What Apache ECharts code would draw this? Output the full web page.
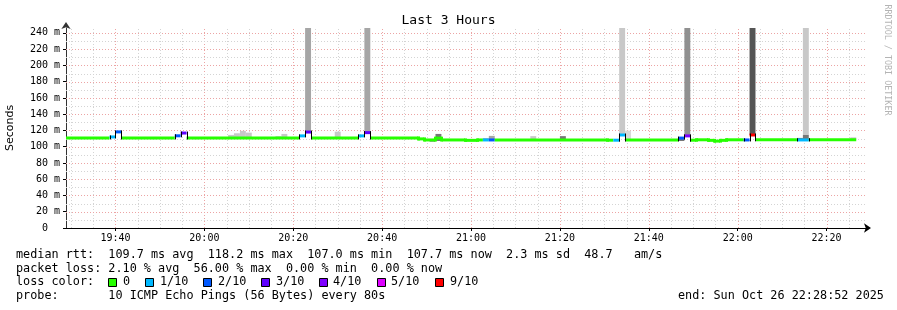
<!DOCTYPE html>
<html><head><meta charset="utf-8">
<script src="https://cdn.jsdelivr.net/npm/echarts@6/dist/echarts.min.js"></script>
<style>html,body{margin:0;padding:0;background:#fff}#c{width:897px;height:310px}</style>
</head><body><div id="c"></div>
<script>
// ================= DATA =================
const titleText = 'Last 3 Hours';
const yAxisName = 'Seconds';
const rangeStart = '19:28:52';
const rangeEnd = '22:28:52';
const xTickLabels = ['19:40','20:00','20:20','20:40','21:00','21:20','21:40','22:00','22:20'];
const yTickValues = [0,20,40,60,80,100,120,140,160,180,200,220,240];
const yMaxValue = 246;           // upper limit of the plot (ms)
const probeStepSeconds = 80;     // "every 80s"

// median RTT (ms), step segments: start time, value, loss count (of 10)
const medStart = ['19:28:00','19:38:40','19:40:00','19:41:20','19:53:20','19:54:40','19:56:00',
  '20:21:20','20:22:40','20:24:00','20:34:40','20:36:00','20:37:20','20:48:00','20:49:20',
  '20:52:00','20:53:20','20:58:40','21:01:20','21:02:40','21:04:00','21:05:20','21:30:40',
  '21:32:00','21:33:20','21:34:40','21:46:40','21:48:00','21:49:20','21:50:40','21:53:20',
  '21:54:40','21:56:00','21:57:20','22:01:20','22:02:40','22:04:00','22:13:20','22:16:00'];
const medValue = [110.8,112.0,118.2,110.8,113.4,116.8,110.8,
  113.3,118.0,110.8,113.3,117.3,110.8,109.6,108.3,
  110.5,108.3,107.8,108.3,108.3,108.3,108.3,108.0,
  108.0,114.4,108.3,110.6,113.3,108.0,108.5,107.8,
  106.9,107.8,108.5,108.3,114.4,108.5,108.3,108.6];
const medLoss = [0,1,2,0,2,3,0,
  1,3,0,1,3,0,0,0,
  0,0,0,0,1,2,0,0,
  1,1,0,2,4,0,0,0,
  0,0,0,2,9,0,1,0];
const medEnd = '22:26:40';

// smoke (ping spread) blocks, one probe step each: start, low, high (ms), density (1 light .. 6 dark)
const smokeStart = ['19:48:00','19:57:20','20:05:20','20:06:40','20:08:00','20:09:20',
  '20:16:00','20:17:20','20:22:40','20:29:20','20:36:00','20:50:40','20:52:00',
  '21:02:40','21:04:00','21:13:20','21:20:00','21:33:20','21:34:40','21:46:40','21:48:00',
  '22:01:20','22:02:40','22:13:20','22:14:40','22:14:40','22:24:00','22:25:20'];
const smokeLow = [109.2,109.2,110.0,110.0,110.0,110.0,
  110.0,110.0,118.0,110.0,117.3,106.0,107.0,
  108.3,108.3,108.3,108.3,114.4,108.3,107.0,113.3,
  107.0,114.4,108.3,108.3,114.4,108.0,108.0];
const smokeHigh = [110.8,110.8,114.5,116.5,119.5,117.3,
  113.0,115.7,300,118.5,300,108.3,115.7,
  110.5,113.3,113.0,113.0,300,119.8,110.6,300,
  108.3,300,110.8,114.4,300,109.0,111.5];
const smokeDensity = [2,2,2,2,2,2,
  2,2,3,2,3,4,5,
  3,3,2,5,2,1,5,4,
  5,6,5,5,2,2,2];

// legend / stats text
const legendLines = [
  'median rtt:  109.7 ms avg  118.2 ms max  107.0 ms min  107.7 ms now  2.3 ms sd  48.7   am/s',
  'packet loss: 2.10 % avg  56.00 % max  0.00 % min  0.00 % now',
  'loss color:',
  'probe:       10 ICMP Echo Pings (56 Bytes) every 80s'
];
const lossLegendLabels = ['0','1/10','2/10','3/10','4/10','5/10','9/10'];
const lossLegendLevels = [0,1,2,3,4,5,9];
const endText = 'end: Sun Oct 26 22:28:52 2025';
const watermark = 'RRDTOOL / TOBI OETIKER';

// ================= STYLE =================
const lossColors = {0:'#26ff00',1:'#00b8ff',2:'#0059ff',3:'#5e00ff',4:'#7e00ff',5:'#dd00ff',9:'#ff0000'};
const smokeColors = ['#d9d9d9','#c8c8c8','#a6a6a6','#909090','#777777','#555555'];
const MONO = '"DejaVu Sans Mono", monospace';
const minorGrid = '#d4d4d4', majorGrid = '#eca4a4';

const toMin = s => { const p = s.split(':').map(Number); return p[0]*60 + p[1] + (p[2]||0)/60; };
const fmt = v => { const h = Math.floor(v/60), m = Math.round(v%60); return String(h).padStart(2,'0')+':'+String(m).padStart(2,'0'); };
const stepMin = probeStepSeconds/60;

const medData = medStart.map((s,i)=>[toMin(s), i+1<medStart.length ? toMin(medStart[i+1]) : toMin(medEnd), medValue[i], medLoss[i]]);
const smokeData = smokeStart.map((s,i)=>[toMin(s), toMin(s)+stepMin, smokeLow[i], smokeHigh[i], smokeDensity[i]]);

const xMin = toMin(rangeStart), xMax = toMin(rangeEnd);
const xTickVals = xTickLabels.map(toMin);

// grid lines (5 min / 10 ms minor, 20 min / 20 ms major): [orientation, value, major]
const gridData = [];
for (let v = Math.ceil(xMin/5)*5; v < xMax; v += 5) gridData.push([0, v, v%20===0 ? 1 : 0]);
for (let v = 10; v <= 240; v += 10) gridData.push([1, v, v%20===0 ? 1 : 0]);

const chart = echarts.init(document.getElementById('c'), null, {renderer:'canvas'});
const legendY = [255, 268.5, 282, 296];
const boxX = [108.5,145.5,203.5,261.5,319.5,377.5,435.5];
const lblX = [123,160,218,276,333,391,450];
const graphics = [];
legendLines.forEach((t,i)=>graphics.push({type:'text', x:16, y:legendY[i], style:{text:t, font:'11.8px '+MONO, fill:'#000', textVerticalAlign:'middle'}}));
lossLegendLevels.forEach((lv,i)=>{
  graphics.push({type:'rect', shape:{x:boxX[i], y:278.5, width:8, height:8}, style:{fill:lossColors[lv], stroke:'#000', lineWidth:1}});
  graphics.push({type:'text', x:lblX[i], y:legendY[2], style:{text:lossLegendLabels[i], font:'11.8px '+MONO, fill:'#000', textVerticalAlign:'middle'}});
});
graphics.push({type:'text', x:678, y:legendY[3], style:{text:endText, font:'11.8px '+MONO, fill:'#000', textVerticalAlign:'middle'}});
graphics.push({type:'text', x:887, y:60, rotation:-Math.PI/2, style:{text:watermark, font:'8.4px '+MONO, fill:'#b4b4b4', textAlign:'center', textVerticalAlign:'middle'}});

chart.setOption({
  animation:false,
  backgroundColor:'#ffffff',
  title:{text:titleText, left:'center', top:9, textStyle:{fontFamily:MONO, fontSize:13, fontWeight:'normal', color:'#000'}},
  grid:{left:66, right:31, top:28, bottom:82, containLabel:false, outerBoundsMode:'none'},
  xAxis:{type:'value', min:xMin, max:xMax,
    axisLine:{show:true, lineStyle:{color:'#000', width:1}, symbol:['none','arrow'], symbolSize:[7,7], symbolOffset:[0,5]},
    axisTick:{show:true, customValues:xTickVals, length:3, lineStyle:{color:'#000'}},
    axisLabel:{customValues:xTickVals, formatter:fmt, fontFamily:MONO, fontSize:10, color:'#000', margin:5},
    splitLine:{show:false}},
  yAxis:{type:'value', min:0, max:yMaxValue, name:yAxisName, nameLocation:'middle', nameGap:50, nameRotate:90,
    nameTextStyle:{fontFamily:'"DejaVu Sans", sans-serif', fontSize:11, color:'#000'},
    axisLine:{show:true, lineStyle:{color:'#333', width:1}, symbol:['none','arrow'], symbolSize:[7,7], symbolOffset:[0,6]},
    axisTick:{show:true, customValues:yTickValues, length:3, lineStyle:{color:'#000'}},
    axisLabel:{customValues:yTickValues, formatter:v=> v===0 ? '0  ' : v+' m', fontFamily:MONO, fontSize:10, color:'#000', margin:6},
    splitLine:{show:false}},
  graphic:graphics,
  series:[
    {type:'custom', z:1, silent:true, clip:true, data:gridData,
     renderItem:(params, api)=>{
       const o = api.value(0), v = api.value(1), major = api.value(2);
       let a, b;
       if (o === 0) { a = api.coord([v, 0]); b = api.coord([v, yMaxValue]); const x = Math.round(a[0])+0.5; a[0]=x; b[0]=x; }
       else { a = api.coord([xMin, v]); b = api.coord([xMax, v]); const y = Math.round(a[1])+0.5; a[1]=y; b[1]=y; }
       return {type:'line', shape:{x1:a[0], y1:a[1], x2:b[0], y2:b[1]},
         style:{stroke: major ? majorGrid : minorGrid, lineWidth:1, lineDash:[1,2]}};
     }},
    {type:'custom', z:2, clip:true, data:smokeData,
     renderItem:(params, api)=>{
       const p0 = api.coord([api.value(0), api.value(3)]);
       const p1 = api.coord([api.value(1), api.value(2)]);
       return {type:'rect', shape:{x:p0[0], y:p0[1], width:p1[0]-p0[0], height:p1[1]-p0[1]},
         style:{fill:smokeColors[api.value(4)-1]}};
     }},
    {type:'custom', z:3, clip:true, data:medData,
     renderItem:(params, api)=>{
       const i = params.dataIndex;
       const v = api.value(2), loss = api.value(3);
       const p0 = api.coord([api.value(0), v]);
       const p1 = api.coord([api.value(1), v]);
       const children = [{type:'line', shape:{x1:p0[0], y1:p0[1], x2:p1[0], y2:p1[1]}, style:{stroke:lossColors[loss], lineWidth:3}}];
       if (i > 0 && medData[i-1][2] !== v) {
         const pv = medData[i-1][2], pl = medData[i-1][3];
         const q = api.coord([api.value(0), pv]);
         const black = (loss > 0 || pl > 0);
         const lo = Math.max(q[1], p0[1]) + 1.5, hi = Math.min(q[1], p0[1]) - 1.5;
         children.push({type:'line', shape:{x1:Math.round(p0[0])+0.5, y1:lo, x2:Math.round(p0[0])+0.5, y2:hi},
           style:{stroke: black ? '#000' : lossColors[0], lineWidth: black ? 1 : 3}, z2: black ? 5 : 0});
       }
       return {type:'group', children};
     }}
  ]
});
</script></body></html>
